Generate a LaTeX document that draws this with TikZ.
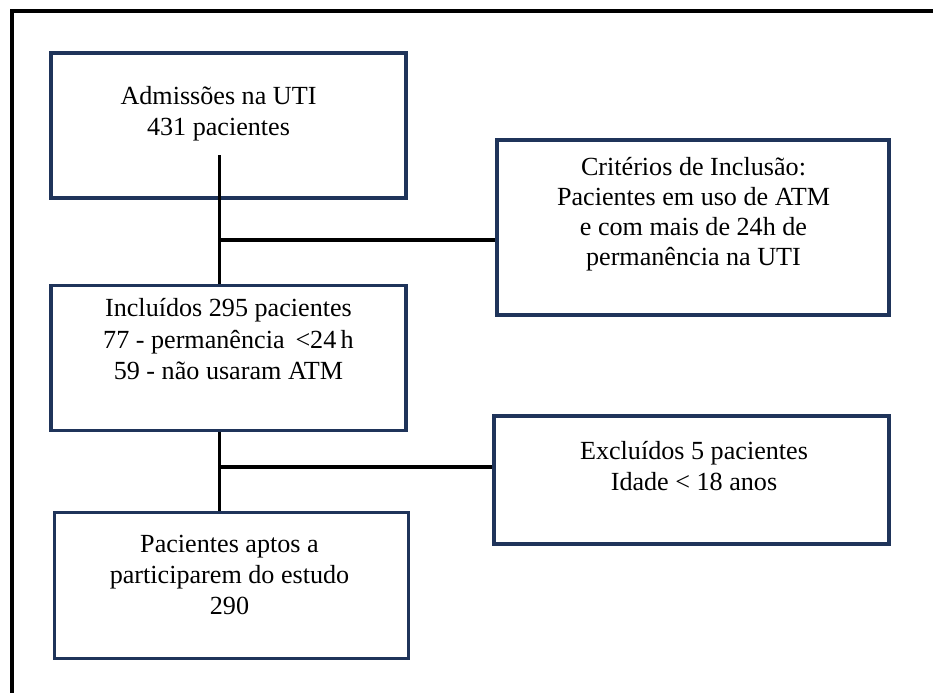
\documentclass[tikz,border=0pt]{standalone}
\usepackage{fontspec}
\setmainfont{Liberation Serif}
\usetikzlibrary{positioning, calc}
\definecolor{boxblue}{RGB}{31,52,90}
\tikzset{
    flowbox/.style={draw=boxblue, line width=2.4pt, fill=white, inner sep=0pt},
    boxtext/.style={align=center, font=\fontsize{19.6}{23.3}\selectfont, inner sep=0pt},
    link/.style={draw=black, line width=2.4pt},
}

\begin{document}
\begin{tikzpicture}[x=0.75pt, y=-0.75pt]
    \useasboundingbox (0,0) rectangle (933,693);
    % outer frame (only top and left show)
    \draw[line width=3pt] (12,693) -- (12,11) -- (933,11);

    % left column
    \node[flowbox, minimum width=266.25pt, minimum height=108.75pt] (adm) at (228.5,125.5) {};
    \node[flowbox, minimum width=266.25pt, minimum height=108.75pt, below=63pt of adm] (incl) {};
    \node[flowbox, minimum width=265.5pt, minimum height=109.5pt, below=59.25pt of incl, xshift=2.25pt] (aptos) {};

    % right column
    \node[flowbox, minimum width=294pt, minimum height=131.25pt] (crit) at (693,227.5) {};
    \node[flowbox, minimum width=296.25pt, minimum height=96pt] (excl) at (691.5,480) {};

    % texts
    \node[boxtext] (adm-txt) at ($(adm.north)+(-10,62.5)$) {Admissões na UTI\\431 pacientes};
    \node[boxtext] (incl-txt) at ($(incl.north)+(0,55.5)$) {Incluídos 295 pacientes\\77 - permanência \,<24\,h\\59 - não usaram ATM};
    \node[boxtext] (aptos-txt) at ($(aptos.north)+(-2,64)$) {Pacientes aptos a\\participarem do estudo\\290};
    \node[boxtext, font=\fontsize{19.6}{22.4}\selectfont] (crit-txt) at ($(crit.north)+(0.5,76)$) {Critérios de Inclusão:\\Pacientes em uso de ATM\\e com mais de 24h de\\permanência na UTI};
    \node[boxtext] (excl-txt) at ($(excl.north)+(2.5,51.5)$) {Excluídos 5 pacientes\\Idade < 18 anos};

    % connectors
    \coordinate (stem1) at (219.5,155);
    \coordinate (j1) at (219.5,240);
    \coordinate (j2) at (219.5,467);
    \draw[link] (stem1) -- (stem1 |- incl.north);
    \draw[link] (j1) -- (j1 -| crit.west);
    \draw[link] (j2 |- incl.south) -- (j2 |- aptos.north);
    \draw[link] (j2) -- (j2 -| excl.west);
\end{tikzpicture}
\end{document}
